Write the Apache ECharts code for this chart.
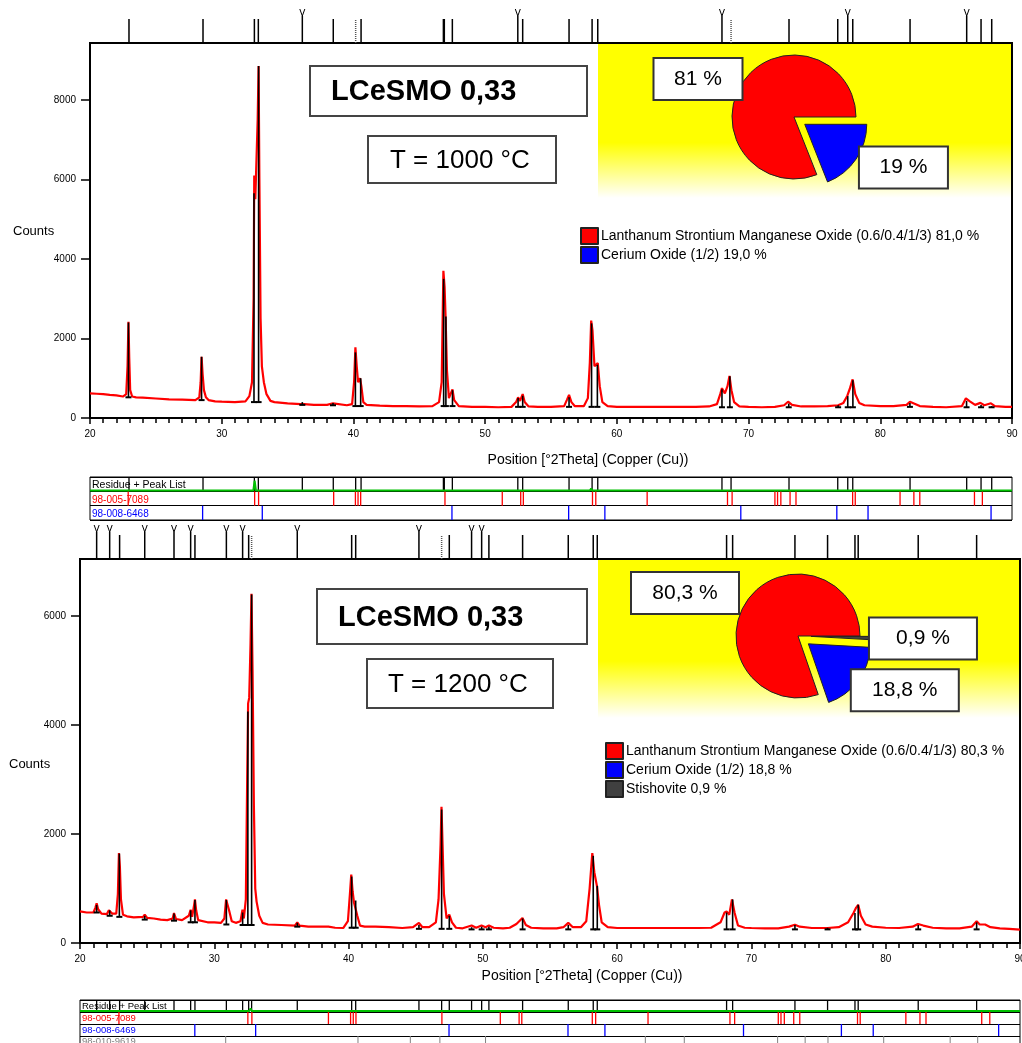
<!DOCTYPE html>
<html><head><meta charset="utf-8">
<script src="https://cdn.jsdelivr.net/npm/echarts/dist/echarts.min.js"></script>
<style>html,body{margin:0;padding:0;background:#fff}#c{width:1022px;height:1043px}</style>
</head><body><div id="c"></div><script>
// ---------------- DATA ----------------
const phaseNames = ['Lanthanum Strontium Manganese Oxide (0.6/0.4/1/3)', 'Cerium Oxide (1/2)', 'Stishovite'];
const topPhasePct = [81.0, 19.0];
const botPhasePct = [80.3, 18.8, 0.9];
const sampleTitle = 'LCeSMO 0,33';
const topTemp = 'T = 1000 °C';
const botTemp = 'T = 1200 °C';
const xRange = [20, 90];
const topYMax = 9430;
const botYMax = 7050;

// measured profile, 1000 °C  [2theta, counts]
const topProfile = [[20.0,620],[20.5,610],[21.0,600],[21.5,580],[22.0,570],[22.5,540],[22.75,600],[22.85,1300],[22.92,2420],[22.98,1500],[23.05,700],[23.2,540],[23.5,520],[24.0,510],[25.0,490],[26.0,470],[27.0,460],[28.0,450],[28.3,520],[28.4,900],[28.47,1540],[28.55,1100],[28.65,700],[28.8,520],[29.0,450],[29.5,420],[30,410],[31,400],[31.8,420],[32.1,550],[32.3,900],[32.42,3000],[32.47,6100],[32.55,5500],[32.65,5500],[32.73,7500],[32.8,8850],[32.86,6000],[32.95,2500],[33.05,1300],[33.2,900],[33.4,600],[33.7,430],[34.0,400],[35,370],[36.0,350],[36.12,400],[36.25,350],[37,330],[38.0,330],[38.45,370],[38.6,330],[39.5,320],[39.9,350],[40.05,900],[40.15,1780],[40.25,1300],[40.35,900],[40.5,1000],[40.6,800],[40.75,400],[41.0,330],[42,310],[43,300],[44,300],[45,290],[46.0,300],[46.5,400],[46.7,900],[46.83,3700],[46.92,3300],[47.0,2500],[47.1,1200],[47.25,500],[47.4,500],[47.52,720],[47.65,450],[48.0,300],[49,280],[50,280],[51,270],[52.0,280],[52.35,400],[52.5,520],[52.65,430],[52.85,600],[53.0,400],[53.3,290],[54,280],[55,280],[56.0,300],[56.2,450],[56.37,580],[56.55,400],[56.8,300],[57.5,300],[57.8,500],[57.95,1400],[58.05,2450],[58.15,2200],[58.3,1300],[58.45,1300],[58.55,1380],[58.7,800],[58.9,400],[59.3,300],[60,280],[61,280],[62,280],[63,280],[64,280],[65,280],[66,280],[67,290],[67.6,350],[67.85,600],[67.98,750],[68.2,620],[68.4,800],[68.55,1060],[68.7,700],[68.9,400],[69.3,290],[70,280],[71,270],[72,280],[72.7,320],[73.0,410],[73.3,330],[74,290],[75,290],[76,300],[76.8,320],[77.2,380],[77.5,560],[77.7,750],[77.9,970],[78.1,600],[78.4,380],[78.8,320],[80,300],[81,300],[82.0,330],[82.25,410],[82.6,360],[83,300],[84,280],[85,270],[86.2,300],[86.5,495],[86.8,420],[87.2,330],[87.6,380],[87.9,320],[88.4,370],[88.7,300],[89.5,280],[90,280]];
// found peaks [2theta, base, height]
const topSticks = [[22.92,520,2400],[28.47,450,1540],[32.45,400,5650],[32.8,400,8850],[36.12,330,400],[38.45,320,380],[40.15,300,1650],[40.55,300,1000],[46.85,300,3500],[47.02,300,2550],[47.52,300,700],[52.5,280,500],[52.85,280,560],[56.37,280,520],[58.08,280,2380],[58.52,280,1340],[67.98,270,720],[68.58,270,1050],[73.05,270,360],[76.8,270,320],[77.53,270,550],[77.92,270,950],[82.25,280,380],[86.55,270,430],[87.65,270,330],[88.45,270,300]];
// peak list markers [2theta, kind] kind: 0 plain, 1 marked, 2 dotted
const topMarkers = [[22.96,0],[28.58,0],[32.48,0],[32.78,0],[36.12,1],[38.47,0],[40.17,2],[40.58,0],[46.83,0],[46.9,0],[47.51,0],[52.48,1],[52.85,0],[56.37,0],[58.12,0],[58.55,0],[67.98,1],[68.67,2],[73.07,0],[76.77,0],[77.53,1],[77.91,0],[82.26,0],[86.56,1],[87.65,0],[88.46,0]];
const refRed = [22.9,32.5,32.8,38.5,40.15,40.35,40.55,46.95,51.3,52.7,52.9,58.15,58.4,62.3,68.4,68.75,72.0,72.2,72.45,73.15,73.6,77.9,78.1,81.5,82.55,83.0,87.15,87.75];
const refBlue = [28.55,33.08,47.48,56.34,59.09,69.41,76.7,79.07,88.41];
const refGrey = [30.85,40.7,44.6,46.8,50.2,62.1,65.0,71.95,74.0,75.7,79.85,84.8,86.85];
const topResidue = [[20,0.95],[32.4,0.95],[32.5,0.25],[32.6,0.95],[57.95,0.95],[58.05,0.8],[58.15,0.95],[90,0.95]];

// measured profile, 1200 °C
const botProfile = [[20,580],[20.5,560],[21.0,560],[21.15,650],[21.24,730],[21.35,620],[21.6,540],[22.0,530],[22.15,600],[22.25,620],[22.4,540],[22.7,540],[22.82,900],[22.9,1650],[22.97,1400],[23.05,800],[23.2,520],[23.5,490],[24.0,470],[24.7,480],[24.82,520],[25.0,460],[25.5,450],[26.0,430],[26.5,420],[26.9,450],[27.0,550],[27.15,440],[27.6,420],[28.1,500],[28.24,610],[28.35,480],[28.5,700],[28.56,800],[28.65,600],[28.8,420],[29.5,380],[30.0,380],[30.5,370],[30.75,450],[30.88,800],[30.98,780],[31.1,600],[31.3,400],[31.6,370],[31.95,400],[32.1,610],[32.2,450],[32.35,800],[32.45,3000],[32.52,4400],[32.6,4500],[32.7,5500],[32.77,6410],[32.85,5000],[32.95,2500],[33.05,1000],[33.15,760],[33.35,500],[33.6,370],[34,340],[35,330],[36.0,320],[36.18,380],[36.35,320],[37,300],[38,300],[38.5,300],[39.0,280],[39.6,275],[39.95,400],[40.1,900],[40.2,1255],[40.3,950],[40.4,750],[40.52,770],[40.65,500],[40.85,320],[41.2,300],[42,300],[43,290],[44,275],[44.8,290],[45.24,370],[45.5,290],[46,290],[46.5,380],[46.7,800],[46.85,1800],[46.92,2500],[47.0,1800],[47.1,900],[47.3,450],[47.5,520],[47.7,380],[48.0,280],[48.5,270],[49.16,320],[49.5,280],[49.9,320],[50.2,290],[50.45,320],[50.8,280],[51.5,270],[52.0,280],[52.5,350],[52.95,460],[53.2,330],[53.6,280],[54.5,270],[55.5,270],[56.0,290],[56.36,370],[56.7,290],[57.3,290],[57.7,400],[57.95,1000],[58.15,1650],[58.3,1300],[58.5,1040],[58.65,700],[58.85,380],[59.3,290],[60,275],[61,275],[62,275],[63,275],[64,275],[65,275],[66,275],[67,280],[67.7,380],[68.0,560],[68.15,580],[68.35,520],[68.55,800],[68.75,550],[69.0,320],[69.5,280],[70,275],[71,270],[72,270],[72.8,300],[73.24,336],[73.6,300],[74.5,275],[75.67,275],[76.5,290],[77.2,380],[77.6,550],[77.8,650],[77.95,700],[78.15,500],[78.5,340],[79,300],[80,280],[81,275],[82.0,300],[82.4,350],[82.8,320],[83.5,280],[84.5,270],[85.5,270],[86.4,300],[86.77,400],[87.0,340],[87.4,340],[87.8,290],[88.5,270],[89.2,260],[90,244]];
const botSticks = [[21.24,560,700],[22.21,500,600],[22.93,480,1640],[24.82,430,500],[27.0,410,540],[28.24,380,600],[28.56,380,790],[30.9,340,790],[32.11,330,560],[32.5,330,4250],[32.78,330,6400],[36.18,300,370],[40.23,280,1220],[40.53,280,780],[45.24,260,330],[46.93,260,2450],[47.5,260,500],[49.16,250,290],[49.91,250,300],[50.45,250,300],[52.96,250,450],[56.36,250,330],[58.22,250,1600],[58.52,250,1050],[68.15,250,560],[68.6,250,800],[73.24,250,330],[75.67,250,280],[77.71,250,550],[77.95,250,700],[82.42,250,330],[86.77,250,380]];
const botMarkers = [[21.24,1],[22.21,1],[22.95,0],[24.82,1],[27.0,1],[28.24,1],[28.56,0],[30.9,1],[32.11,1],[32.56,0],[32.78,2],[36.18,1],[40.23,0],[40.53,0],[45.24,1],[46.93,2],[47.5,0],[49.16,1],[49.91,1],[50.45,0],[52.96,0],[56.36,0],[58.22,0],[58.52,0],[68.15,0],[68.6,0],[73.24,0],[75.67,0],[77.71,0],[77.95,0],[82.42,0],[86.77,0]];
const botResidue = [[20,0.92],[32.6,0.92],[32.7,0.7],[32.8,0.92],[58.1,0.92],[58.2,0.82],[58.3,0.92],[90,0.92]];

const topStripLabels = ['Residue + Peak List', '98-005-7089', '98-008-6468'];
const botStripLabels = ['Residue + Peak List', '98-005-7089', '98-008-6469', '98-010-9619'];

// ---------------- HELPERS ----------------
const FONT = '"Liberation Sans", Arial, sans-serif';
const COLORS = ['#ff0000', '#0000ff', '#404040'];
const comma = (v, d) => (d == null ? String(v) : v.toFixed(d)).replace('.', ',');

function stickRender(params, api) {
  const x = api.value(0), b = api.value(1), t = api.value(2);
  const p0 = api.coord([x, b]), p1 = api.coord([x, t]);
  return {type: 'group', children: [
    {type: 'line', shape: {x1: p0[0], y1: p0[1], x2: p1[0], y2: p1[1]}, style: {stroke: '#000', lineWidth: 1.6}},
    {type: 'line', shape: {x1: p0[0] - 3, y1: p0[1], x2: p0[0] + 3, y2: p0[1]}, style: {stroke: '#000', lineWidth: 2}}
  ]};
}
function markerRender(params, api) {
  const x = api.value(0), k = api.value(1);
  const p = api.coord([x, 0]);
  const top = k === 1 ? p[1] - 27 : p[1] - 24;
  const ch = [{type: 'line', shape: {x1: p[0], y1: p[1], x2: p[0], y2: top},
    style: {stroke: k === 2 ? '#555' : '#000', lineWidth: 1.5, lineDash: k === 2 ? [1, 1] : null}}];
  if (k === 1) ch.push({type: 'polyline', shape: {points: [[p[0] - 2.5, top - 7], [p[0], top], [p[0] + 2.5, top - 7]]}, style: {stroke: '#000', lineWidth: 1, fill: null}});
  return {type: 'group', children: ch};
}
function stripRender(color, w) {
  return function (params, api) {
    const x = api.value(0), r = api.value(1);
    const a = api.coord([x, r]), b = api.coord([x, r + 1]);
    return {type: 'line', shape: {x1: a[0], y1: a[1], x2: b[0], y2: b[1]}, style: {stroke: color, lineWidth: w}};
  };
}

// ---------------- LAYOUT ----------------
const G = o => Object.assign({containLabel: false, outerBoundsMode: 'none'}, o);
const grids = [
  G({left: 90, width: 922, top: 0, height: 43}),      // 0 top markers
  G({left: 90, width: 922, top: 43, height: 375, show: true, borderColor: '#000', borderWidth: 2}), // 1 top main
  G({left: 90, width: 922, top: 477, height: 43, show: true, borderColor: '#000', borderWidth: 1}), // 2 top strip
  G({left: 80, width: 940, top: 520, height: 39}),     // 3 bottom markers
  G({left: 80, width: 940, top: 559, height: 384, show: true, borderColor: '#000', borderWidth: 2}), // 4 bottom main
  G({left: 80, width: 940, top: 1000, height: 48, show: true, borderColor: '#000', borderWidth: 1})  // 5 bottom strip
];
const hiddenX = i => ({type: 'value', gridIndex: i, min: xRange[0], max: xRange[1], show: false});
const mainX = i => ({type: 'value', gridIndex: i, min: xRange[0], max: xRange[1], interval: 10,
  axisLine: {lineStyle: {color: '#000', width: 2}},
  axisTick: {length: 6, lineStyle: {color: '#000', width: 1.5}},
  minorTick: {show: true, splitNumber: 10, length: 5, lineStyle: {color: '#000', width: 1.5}},
  axisLabel: {fontSize: 10, color: '#000', margin: 11, fontFamily: FONT, formatter: v => String(v)},
  splitLine: {show: false}});
const mainY = (i, max) => ({type: 'value', gridIndex: i, min: 0, max: max, interval: 2000,
  axisLine: {show: true, lineStyle: {color: '#000', width: 2}},
  axisTick: {show: true, length: 9, lineStyle: {color: '#000', width: 1.5}},
  axisLabel: {fontSize: 10, color: '#000', margin: 14, fontFamily: FONT, showMaxLabel: false, formatter: v => String(v)},
  splitLine: {show: false}});
const stripY = (i, n) => ({type: 'value', gridIndex: i, min: 0, max: n, interval: 1, inverse: true,
  axisLine: {show: false}, axisTick: {show: false}, axisLabel: {show: false},
  splitLine: {show: true, lineStyle: {color: '#000', width: 1}}});

const series = [
  {type: 'custom', xAxisIndex: 0, yAxisIndex: 0, renderItem: markerRender, data: topMarkers, encode: {x: 0, y: 1}},
  {type: 'line', xAxisIndex: 1, yAxisIndex: 1, data: topProfile, showSymbol: false, lineStyle: {color: '#ff0000', width: 2.2}, z: 3},
  {type: 'custom', xAxisIndex: 1, yAxisIndex: 1, renderItem: stickRender, data: topSticks, encode: {x: 0, y: [1, 2]}, z: 4},
  {type: 'custom', xAxisIndex: 2, yAxisIndex: 2, renderItem: stripRender('#000', 1.3), data: topMarkers.map(m => [m[0], 0]), encode: {x: 0, y: 1}},
  {type: 'line', xAxisIndex: 2, yAxisIndex: 2, data: topResidue, showSymbol: false, lineStyle: {color: '#00c000', width: 2}},
  {type: 'custom', xAxisIndex: 2, yAxisIndex: 2, renderItem: stripRender('#ff0000', 1.3), data: refRed.map(v => [v, 1]), encode: {x: 0, y: 1}},
  {type: 'custom', xAxisIndex: 2, yAxisIndex: 2, renderItem: stripRender('#0000ff', 1.3), data: refBlue.map(v => [v, 2]), encode: {x: 0, y: 1}},

  {type: 'custom', xAxisIndex: 3, yAxisIndex: 3, renderItem: markerRender, data: botMarkers, encode: {x: 0, y: 1}},
  {type: 'line', xAxisIndex: 4, yAxisIndex: 4, data: botProfile, showSymbol: false, lineStyle: {color: '#ff0000', width: 2.2}, z: 3},
  {type: 'custom', xAxisIndex: 4, yAxisIndex: 4, renderItem: stickRender, data: botSticks, encode: {x: 0, y: [1, 2]}, z: 4},
  {type: 'custom', xAxisIndex: 5, yAxisIndex: 5, renderItem: stripRender('#000', 1.3), data: botMarkers.map(m => [m[0], 0]), encode: {x: 0, y: 1}},
  {type: 'line', xAxisIndex: 5, yAxisIndex: 5, data: botResidue, showSymbol: false, lineStyle: {color: '#00c000', width: 2}},
  {type: 'custom', xAxisIndex: 5, yAxisIndex: 5, renderItem: stripRender('#ff0000', 1.3), data: refRed.map(v => [v, 1]), encode: {x: 0, y: 1}},
  {type: 'custom', xAxisIndex: 5, yAxisIndex: 5, renderItem: stripRender('#0000ff', 1.3), data: refBlue.map(v => [v, 2]), encode: {x: 0, y: 1}},
  {type: 'custom', xAxisIndex: 5, yAxisIndex: 5, renderItem: stripRender('#808080', 1), data: refGrey.map(v => [v, 3]), encode: {x: 0, y: 1}}
];

function pieSeries(center, pct, order, labelPos, boxW) {
  return {
    type: 'pie', center: center, radius: 62, startAngle: 0, clockwise: true,
    selectedMode: 'multiple', selectedOffset: 13, avoidLabelOverlap: false, z: 5,
    itemStyle: {borderColor: '#222', borderWidth: 1},
    emphasis: {disabled: true},
    select: {itemStyle: {borderColor: '#222', borderWidth: 1}},
    data: order.map(i => ({name: phaseNames[i], value: pct[i], selected: i !== 0, itemStyle: {color: COLORS[i]}})),
    label: {show: true, position: 'outside', formatter: p => comma(p.value) + ' %',
      fontSize: 21, fontFamily: FONT, color: '#000', backgroundColor: '#fff', borderColor: '#333', borderWidth: 2,
      width: boxW, height: 40, lineHeight: 40, align: 'center', verticalAlign: 'middle', padding: 0},
    labelLine: {show: false},
    labelLayout: p => ({x: labelPos[p.dataIndex][0], y: labelPos[p.dataIndex][1], align: 'center', verticalAlign: 'middle'})
  };
}
series.push(pieSeries([794, 117], topPhasePct, [1, 0], [[902, 171], [698, 79]], 87));
series.push(pieSeries([798, 636], botPhasePct, [2, 1, 0], [[931, 630], [911, 697], [685, 593]], 106));

function legendFor(left, top, pct) {
  return {left: left, top: top, orient: 'vertical', icon: 'rect', itemWidth: 17, itemHeight: 16, itemGap: 1,
    padding: 0, selectedMode: false, data: phaseNames.slice(0, pct.length),
    textStyle: {fontSize: 14, color: '#000', fontFamily: FONT, padding: [0, 0, 0, -2]},
    formatter: n => n + ' ' + comma(pct[phaseNames.indexOf(n)], 1) + ' %'};
}

const yellow = (x, y, w, h) => ({type: 'rect', z: -10, shape: {x: x, y: y, width: w, height: h}, silent: true,
  style: {fill: new echarts.graphic.LinearGradient(0, 0, 0, 1, [{offset: 0, color: '#ffff00'}, {offset: 0.64, color: '#ffff00'}, {offset: 1, color: '#ffffff'}])}});
const box = (x, y, w, h, text, tx, bold, size) => ({type: 'group', children: [
  {type: 'rect', shape: {x: x, y: y, width: w, height: h}, style: {fill: '#fff', stroke: '#444', lineWidth: 2}},
  {type: 'text', x: tx, y: y + h / 2 + 1, style: {text: text, fontSize: size, fontWeight: bold ? 'bold' : 'normal', fontFamily: FONT, fill: '#000', verticalAlign: 'middle'}}
]});
const txt = (x, y, text, size, color, align) => ({type: 'text', x: x, y: y, style: {text: text, fontSize: size, fontFamily: FONT, fill: color || '#000', verticalAlign: 'middle', align: align || 'left'}});

const graphic = [
  yellow(598, 44, 413, 154),
  yellow(598, 560, 421, 158),
  box(310, 66, 277, 50, sampleTitle, 331, true, 29),
  box(368, 136, 188, 47, topTemp, 390, false, 26),
  box(317, 589, 270, 55, sampleTitle, 338, true, 29),
  box(367, 659, 186, 49, botTemp, 388, false, 26),
  txt(13, 231, 'Counts', 13),
  txt(9, 764, 'Counts', 13),
  txt(588, 460, 'Position [°2Theta] (Copper (Cu))', 14, '#000', 'center'),
  txt(582, 976, 'Position [°2Theta] (Copper (Cu))', 14, '#000', 'center'),
  txt(92, 485, topStripLabels[0], 10.5),
  txt(92, 500, topStripLabels[1], 10, '#ff0000'),
  txt(92, 514, topStripLabels[2], 10, '#0000ff'),
  txt(82, 1006, botStripLabels[0], 9.5),
  txt(82, 1018, botStripLabels[1], 9.5, '#ff0000'),
  txt(82, 1030, botStripLabels[2], 9.5, '#0000ff'),
  txt(82, 1041, botStripLabels[3], 9.5, '#808080')
];

const chart = echarts.init(document.getElementById('c'), null, {renderer: 'canvas'});
chart.setOption({
  animation: false,
  backgroundColor: '#fff',
  grid: grids,
  xAxis: [hiddenX(0), mainX(1), hiddenX(2), hiddenX(3), mainX(4), hiddenX(5)],
  yAxis: [
    {type: 'value', gridIndex: 0, min: 0, max: 1, show: false},
    mainY(1, topYMax),
    stripY(2, 3),
    {type: 'value', gridIndex: 3, min: 0, max: 1, show: false},
    mainY(4, botYMax),
    stripY(5, 4)
  ],
  legend: [legendFor(580, 227, topPhasePct), legendFor(605, 742, botPhasePct)],
  graphic: graphic,
  series: series
});
</script></body></html>
